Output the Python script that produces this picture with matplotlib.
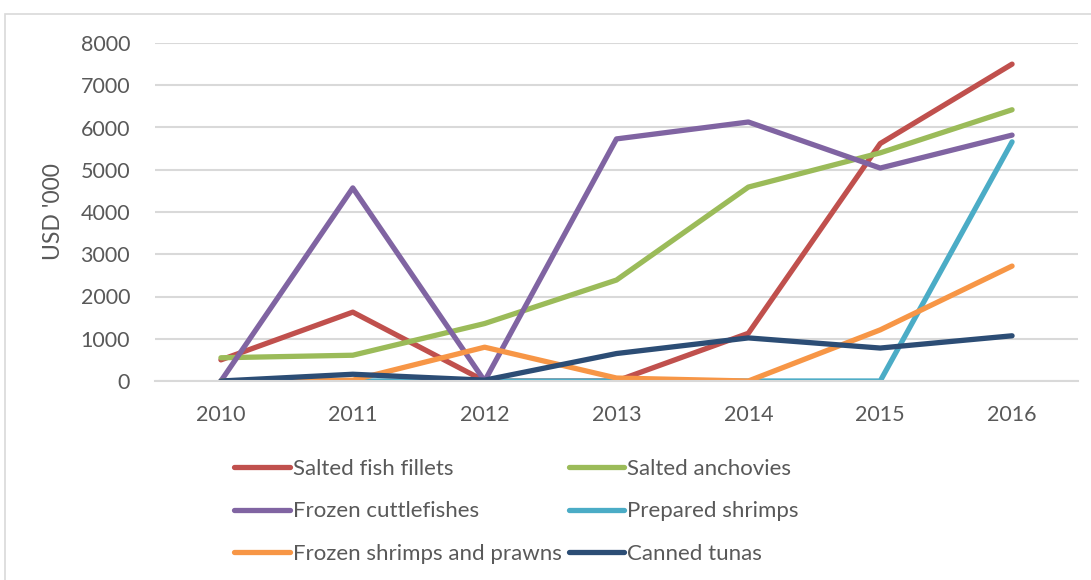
import matplotlib.pyplot as plt
from matplotlib.patches import Rectangle

plt.rcParams['font.family'] = ['Lato', 'DejaVu Sans']

years = ['2010', '2011', '2012', '2013', '2014', '2015', '2016']

salted_fillets = [500, 1630, 0, 0, 1130, 5620, 7500]
salted_anchovies = [550, 610, 1360, 2390, 4590, 5400, 6420]
frozen_cuttlefish = [0, 4570, 0, 5730, 6130, 5040, 5820]
prepared_shrimps = [0, 0, 0, 0, 0, 0, 5660]
frozen_shrimps = [0, 20, 800, 70, 0, 1210, 2720]
canned_tunas = [0, 160, 20, 650, 1020, 780, 1070]

series = [
    ('Salted fish fillets', salted_fillets, '#C0504D'),
    ('Salted anchovies', salted_anchovies, '#9BBB59'),
    ('Frozen cuttlefishes', frozen_cuttlefish, '#8064A2'),
    ('Prepared shrimps', prepared_shrimps, '#4BACC6'),
    ('Frozen shrimps and prawns', frozen_shrimps, '#F79646'),
    ('Canned tunas', canned_tunas, '#2C4D75'),
]

fig = plt.figure(figsize=(10.91, 5.8), dpi=100)
# light frame around the chart area
fig.patches.append(Rectangle((5 / 1091, -0.1), 1.2, 1 - 14 / 580 + 0.1,
                             transform=fig.transFigure, fill=False,
                             edgecolor='#D9D9D9', linewidth=1.2))

ax = fig.add_axes([155 / 1091, 1 - 381 / 580, (1078 - 155) / 1091, (381 - 43) / 580])
x = list(range(len(years)))
lines = {}
for name, vals, col in series:
    ln, = ax.plot(x, vals, color=col, linewidth=3.8, solid_capstyle='round',
                  solid_joinstyle='round', label=name)
    lines[name] = ln

ax.set_xlim(-0.5, len(years) - 0.5)
ax.set_ylim(0, 8000)
ax.set_yticks(range(0, 8001, 1000))
ax.set_xticks(x)
ax.set_xticklabels(years)
ax.yaxis.grid(True, color='#D9D9D9', linewidth=1.5)
ax.set_axisbelow(True)
for s in ['top', 'right', 'left']:
    ax.spines[s].set_visible(False)
ax.spines['bottom'].set_color('#D9D9D9')
ax.spines['bottom'].set_linewidth(1.5)
ax.tick_params(length=0, labelsize=15.5, labelcolor='#595959')
ax.tick_params(axis='x', pad=17)
ax.tick_params(axis='y', pad=18)
ax.set_ylabel("USD '000", fontsize=16.5, color='#595959', labelpad=12)

order = ['Salted fish fillets', 'Frozen cuttlefishes', 'Frozen shrimps and prawns',
         'Salted anchovies', 'Prepared shrimps', 'Canned tunas']
leg = fig.legend([lines[n] for n in order], order, ncol=2, frameon=False,
                 loc='upper left', bbox_to_anchor=(223 / 1091, 1 - 448 / 580),
                 fontsize=16, handlelength=2.5, handletextpad=0.15,
                 columnspacing=0.3, labelspacing=1.0, borderpad=0)
for t in leg.get_texts():
    t.set_color('#595959')

fig.savefig('out.png', dpi=100)
